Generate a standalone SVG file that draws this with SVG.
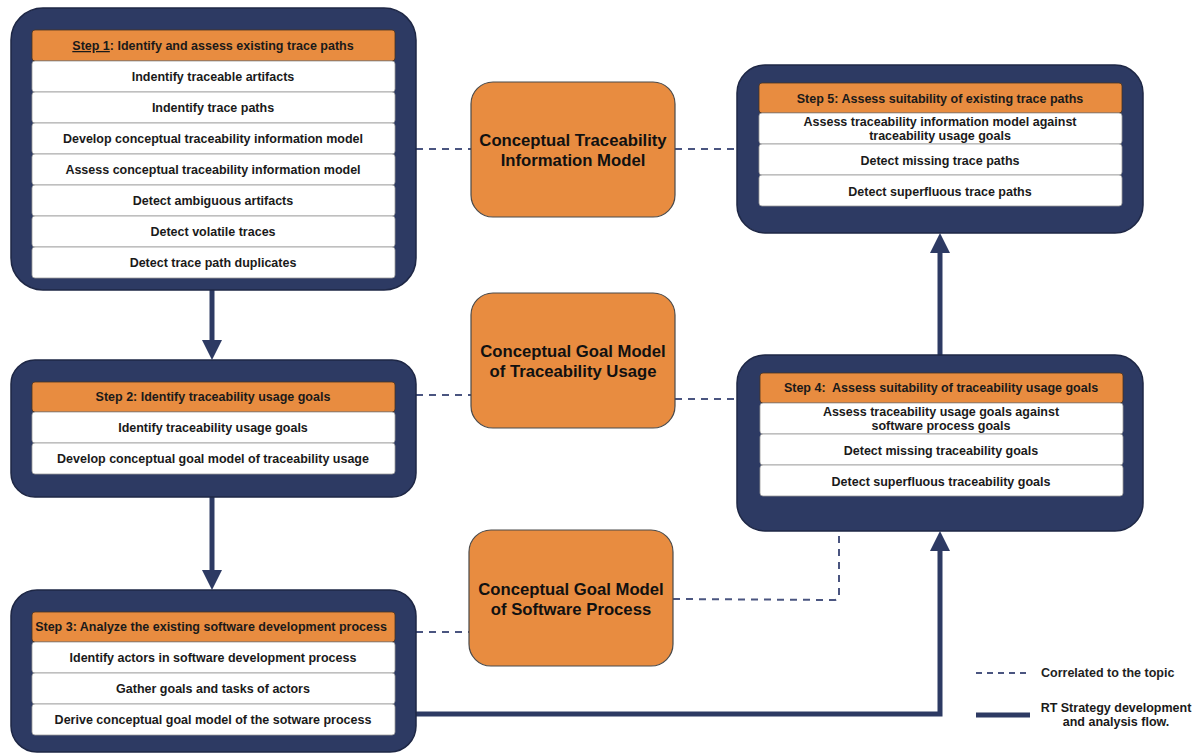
<svg xmlns="http://www.w3.org/2000/svg" width="1198" height="753" viewBox="0 0 1198 753">
  <defs>
    <style>
      .panel { fill: #2d3a63; stroke: #1e2745; stroke-width: 1.5; }
      .head { fill: #e88c40; stroke: #4a3420; stroke-width: 0.8; }
      .row { fill: #ffffff; stroke: #9a9a9a; stroke-width: 0.8; }
      .model { fill: #e88c40; stroke: #4a4a4a; stroke-width: 1.2; }
      .t { font-family: "Liberation Sans", Arial, sans-serif; font-weight: bold; font-size: 12.5px; fill: #1a1a1a; text-anchor: middle; white-space: pre; }
      .tm { font-family: "Liberation Sans", Arial, sans-serif; font-weight: bold; font-size: 16.7px; fill: #111111; text-anchor: middle; }
      .tl { font-family: "Liberation Sans", Arial, sans-serif; font-weight: bold; font-size: 12.5px; fill: #222222; }
      .dash { fill: none; stroke: #4a5580; stroke-width: 2; stroke-dasharray: 7 6; }
      .flow { fill: none; stroke: #2d3a63; stroke-width: 5; }
      .tip { fill: #2d3a63; }
    </style>
  </defs>

  <!-- connectors -->
  <g id="connectors">
    <!-- correlations -->
    <line class="dash" x1="416" y1="149" x2="471" y2="149"/>
    <line class="dash" x1="675" y1="149" x2="737" y2="149"/>
    <line class="dash" x1="416" y1="395" x2="471" y2="395"/>
    <line class="dash" x1="675" y1="399" x2="737" y2="399"/>
    <line class="dash" x1="416" y1="632" x2="469" y2="632"/>
    <path class="dash" d="M673 599 L834 600 Q839 600 839 595 L839 531"/>
    <!-- flow -->
    <line class="flow" x1="212" y1="290" x2="212" y2="342"/>
    <polygon class="tip" points="202,340 222,340 212,360"/>
    <line class="flow" x1="212" y1="497" x2="212" y2="572"/>
    <polygon class="tip" points="202,570 222,570 212,590"/>
    <path class="flow" d="M416 714 L940 714 L940 550"/>
    <polygon class="tip" points="930,551 950,551 940,531"/>
    <line class="flow" x1="940" y1="355" x2="940" y2="252"/>
    <polygon class="tip" points="930,253 950,253 940,233"/>
  </g>

  <!-- Step 1 -->
  <g id="step1">
    <rect class="panel" x="11" y="8" width="405" height="282" rx="32"/>
    <rect class="head" x="32" y="30" width="363" height="31" rx="3"/>
    <text class="t" x="213" y="50"><tspan text-decoration="underline">Step 1</tspan>: Identify and assess existing trace paths</text>
    <rect class="row" x="32" y="61" width="363" height="31" rx="3"/>
    <text class="t" x="213" y="81">Indentify traceable artifacts</text>
    <rect class="row" x="32" y="92" width="363" height="31" rx="3"/>
    <text class="t" x="213" y="112">Indentify trace paths</text>
    <rect class="row" x="32" y="123" width="363" height="31" rx="3"/>
    <text class="t" x="213" y="143">Develop conceptual traceability information model</text>
    <rect class="row" x="32" y="154" width="363" height="31" rx="3"/>
    <text class="t" x="213" y="174">Assess conceptual traceability information model</text>
    <rect class="row" x="32" y="185" width="363" height="31" rx="3"/>
    <text class="t" x="213" y="205">Detect ambiguous artifacts</text>
    <rect class="row" x="32" y="216" width="363" height="31" rx="3"/>
    <text class="t" x="213" y="236">Detect volatile traces</text>
    <rect class="row" x="32" y="247" width="363" height="31" rx="3"/>
    <text class="t" x="213" y="267">Detect trace path duplicates</text>
  </g>

  <!-- Step 2 -->
  <g id="step2">
    <rect class="panel" x="11" y="360" width="405" height="137" rx="24"/>
    <rect class="head" x="32" y="382" width="363" height="30" rx="3"/>
    <text class="t" x="213" y="401">Step 2: Identify traceability usage goals</text>
    <rect class="row" x="32" y="412" width="363" height="31" rx="3"/>
    <text class="t" x="213" y="432">Identify traceability usage goals</text>
    <rect class="row" x="32" y="443" width="363" height="31" rx="3"/>
    <text class="t" x="213" y="463">Develop conceptual goal model of traceability usage</text>
  </g>

  <!-- Step 3 -->
  <g id="step3">
    <rect class="panel" x="11" y="590" width="405" height="162" rx="26"/>
    <rect class="head" x="32" y="612" width="363" height="30" rx="3"/>
    <text class="t" x="211" y="631">Step 3: Analyze the existing software development process</text>
    <rect class="row" x="32" y="642" width="363" height="31" rx="3"/>
    <text class="t" x="213" y="662">Identify actors in software development process</text>
    <rect class="row" x="32" y="673" width="363" height="31" rx="3"/>
    <text class="t" x="213" y="693">Gather goals and tasks of actors</text>
    <rect class="row" x="32" y="704" width="363" height="31" rx="3"/>
    <text class="t" x="213" y="724">Derive conceptual goal model of the sotware process</text>
  </g>

  <!-- Step 4 -->
  <g id="step4">
    <rect class="panel" x="737" y="355" width="406" height="176" rx="28"/>
    <rect class="head" x="760" y="373" width="363" height="30" rx="3"/>
    <text class="t" x="941" y="392">Step 4:  Assess suitability of traceability usage goals</text>
    <rect class="row" x="760" y="403" width="363" height="31" rx="3"/>
    <text class="t" x="941" y="416">Assess traceability usage goals against</text>
    <text class="t" x="941" y="430">software process goals</text>
    <rect class="row" x="760" y="434" width="363" height="31" rx="3"/>
    <text class="t" x="941" y="455">Detect missing traceability goals</text>
    <rect class="row" x="760" y="465" width="363" height="31" rx="3"/>
    <text class="t" x="941" y="486">Detect superfluous traceability goals</text>
  </g>

  <!-- Step 5 -->
  <g id="step5">
    <rect class="panel" x="737" y="65" width="406" height="168" rx="28"/>
    <rect class="head" x="759" y="83" width="363" height="30" rx="3"/>
    <text class="t" x="940" y="103">Step 5: Assess suitability of existing trace paths</text>
    <rect class="row" x="759" y="113" width="363" height="31" rx="3"/>
    <text class="t" x="940" y="126">Assess traceability information model against</text>
    <text class="t" x="940" y="140">traceability usage goals</text>
    <rect class="row" x="759" y="144" width="363" height="31" rx="3"/>
    <text class="t" x="940" y="165">Detect missing trace paths</text>
    <rect class="row" x="759" y="175" width="363" height="31" rx="3"/>
    <text class="t" x="940" y="196">Detect superfluous trace paths</text>
  </g>

  <!-- models -->
  <g id="model-traceability-information">
    <rect class="model" x="471" y="82" width="204" height="135" rx="22"/>
    <text class="tm" x="573" y="146">Conceptual Traceability</text>
    <text class="tm" x="573" y="166">Information Model</text>
  </g>
  <g id="model-traceability-usage">
    <rect class="model" x="471" y="293" width="204" height="135" rx="22"/>
    <text class="tm" x="573" y="357">Conceptual Goal Model</text>
    <text class="tm" x="573" y="377">of Traceability Usage</text>
  </g>
  <g id="model-software-process">
    <rect class="model" x="469" y="530" width="204" height="136" rx="22"/>
    <text class="tm" x="571" y="595">Conceptual Goal Model</text>
    <text class="tm" x="571" y="615">of Software Process</text>
  </g>

  <!-- legend -->
  <g id="legend">
    <line class="dash" x1="976" y1="673" x2="1030" y2="673" style="stroke-dasharray:6 5"/>
    <text class="tl" x="1041" y="677">Correlated to the topic</text>
    <line class="flow" x1="976" y1="715" x2="1030" y2="715"/>
    <text class="t" x="1116" y="712">RT Strategy development</text>
    <text class="t" x="1116" y="726">and analysis flow.</text>
  </g>
</svg>
